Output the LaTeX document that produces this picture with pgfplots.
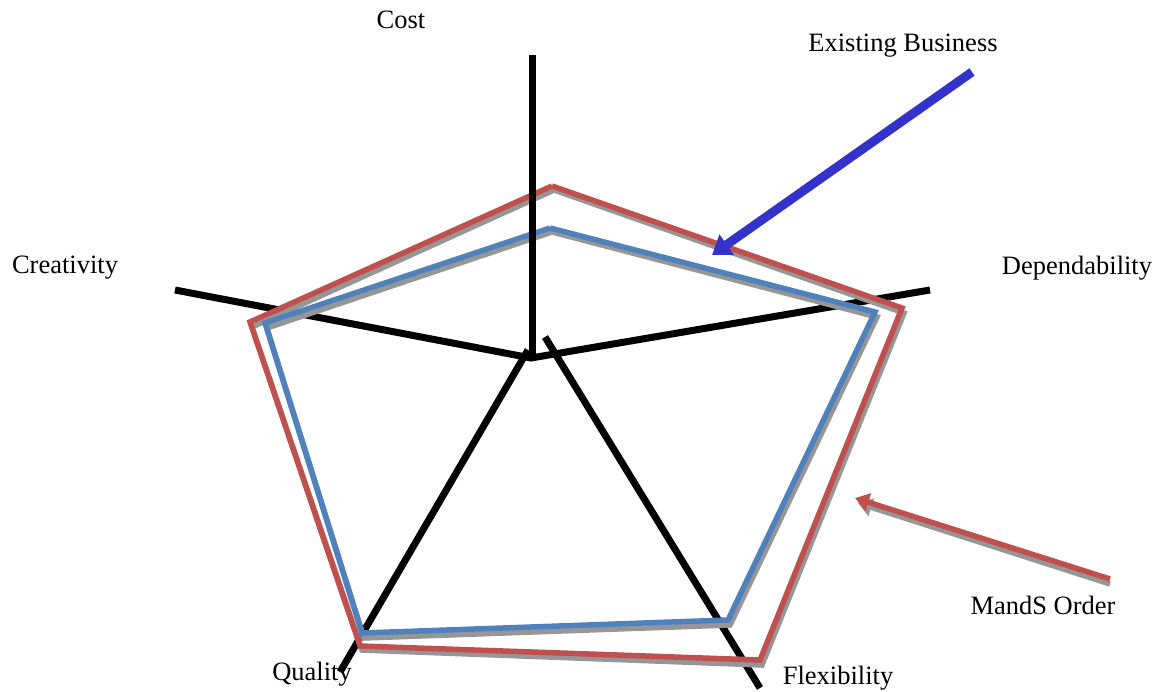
\documentclass[border=0pt]{standalone}
\usepackage{pgfplots}
\pgfplotsset{compat=1.18}
\usepackage{fontspec}
\setmainfont{Liberation Serif}
\usetikzlibrary{arrows.meta}
\definecolor{redline}{RGB}{192,80,77}
\definecolor{blueline}{RGB}{79,129,189}
\definecolor{arrowblue}{RGB}{51,51,204}
\definecolor{shadow}{RGB}{150,150,150}
\begin{document}
\begin{tikzpicture}
\begin{axis}[scale only axis, width=1156pt, height=692pt,
  xmin=0, xmax=1156, ymin=0, ymax=692, y dir=reverse,
  axis lines=none, clip=false,
  every axis plot/.append style={line join=miter, line cap=butt},
  nodes={font=\fontsize{26.5}{30}\selectfont}]
% black axes (behind)
\addplot[black, line width=7pt] coordinates {(175,290) (531,358) (930,290)};
\addplot[black, line width=7pt] coordinates {(340,672) (528,350)};
\addplot[black, line width=7pt] coordinates {(545,337) (760,688)};
% shadows
\addplot[shadow, line width=5.5pt] coordinates {(554,190) (904,313) (762,665) (362,650) (252,327) (554,190)};
\addplot[shadow, line width=5.5pt] coordinates {(552,232) (877,317) (730,625) (364,638) (267,328) (552,232)};
% red polygon
\addplot[redline, line width=5.5pt] coordinates {(552,186) (902,308) (760,660) (360,646) (250,322) (552,186)};
% blue polygon
\addplot[blueline, line width=5.5pt] coordinates {(550,228) (875,312) (728,620) (362,633) (265,323) (550,228)};
% cost axis (front)
\addplot[black, line width=7pt] coordinates {(532,55) (532,360)};
% arrows
\addplot[arrowblue, line width=9pt, -{Triangle[length=18pt,width=24pt]}] coordinates {(972,72) (712,255)};
\addplot[shadow, line width=5.5pt, -{Triangle[length=14pt,width=18pt]}] coordinates {(1110,584) (858,503)};
\addplot[redline, line width=5.5pt, -{Triangle[length=14pt,width=18pt]}] coordinates {(1110,579) (855,498)};
% labels
\node at (axis cs:401,20) {Cost};
\node at (axis cs:903,46) {Existing Business};
\node at (axis cs:65,268) {Creativity};
\node at (axis cs:1077,268) {Dependability};
\node at (axis cs:312,674) {Quality};
\node at (axis cs:838,678) {Flexibility};
\node at (axis cs:1043,605) {MandS Order};
\end{axis}
\pgfresetboundingbox
\path (current axis.south west) rectangle (current axis.north east);
\end{tikzpicture}
\end{document}
